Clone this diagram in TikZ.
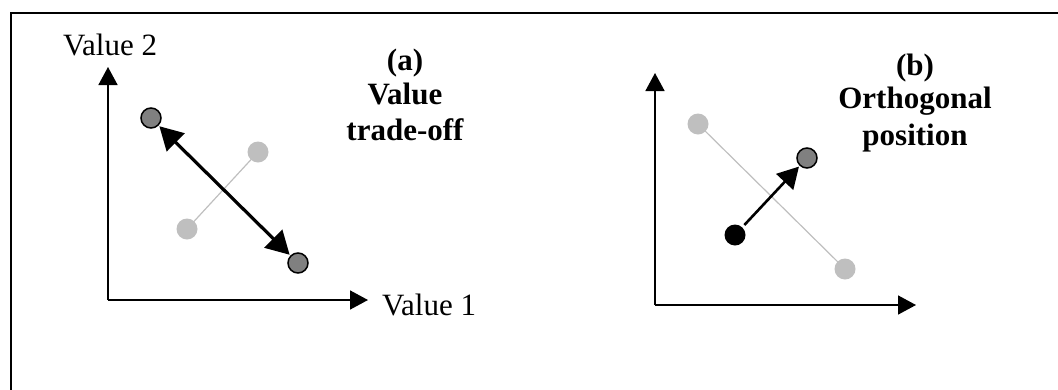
\documentclass[tikz,border=0pt]{standalone}
\usepackage{fontspec}
\setmainfont{Liberation Serif}
\usetikzlibrary{arrows.meta}
\begin{document}
\begin{tikzpicture}[x=1pt,y=-1pt,
  txt/.style={font=\fontsize{31}{35}\selectfont, inner sep=0pt},
  ttl/.style={font=\fontsize{31}{35}\selectfont\bfseries, inner sep=0pt, anchor=base},
  axis/.style={line width=1.6pt, -{Triangle[length=18pt,width=19pt]}},
  darkdot/.style={circle, draw=black, line width=1.5pt, fill=black!50, minimum size=20pt, inner sep=0pt},
  lightdot/.style={circle, fill=black!25, minimum size=21pt, inner sep=0pt},
  blackdot/.style={circle, fill=black, minimum size=21pt, inner sep=0pt},
  grayline/.style={draw=black!25, line width=1.2pt},
  bigarrow/.style={line width=3.2pt, {Triangle[length=23pt,width=25pt]}-{Triangle[length=23pt,width=25pt]}, shorten <=1pt, shorten >=1pt},
  onearrow/.style={line width=2.6pt, -{Triangle[length=21pt,width=23pt]}, shorten <=3pt, shorten >=1pt}
]
\useasboundingbox (0,0) rectangle (1058,389);
\draw[line width=2.2pt] (11,390) -- (11,13) -- (1058,13);

% panel (a)
\coordinate (oa) at (108,300);
\coordinate (ya) at (108,67);
\coordinate (xa) at (368,300);
\draw[axis] (oa) -- (ya);
\draw[axis] (oa) -- (xa);
\node[txt, anchor=base west] (v2) at (63,55) {Value 2};
\node[txt, anchor=base west] (v1) at (382,315) {Value 1};
\node[ttl] (ta1) at (405,70) {(a)};
\node[ttl] (ta2) at (405,104) {Value};
\node[ttl] (ta3) at (405,140) {trade-off};

\node[lightdot] (la1) at (258,152) {};
\node[lightdot] (la2) at (187,229) {};
\draw[grayline] (la1.center) -- (la2.center);
\node[darkdot] (da1) at (151,118) {};
\node[darkdot] (da2) at (298,263) {};
\draw[bigarrow] (da1) -- (da2);

% panel (b)
\coordinate (ob) at (655,305);
\coordinate (yb) at (655,73);
\coordinate (xb) at (916,305);
\draw[axis] (ob) -- (yb);
\draw[axis] (ob) -- (xb);
\node[ttl] (tb1) at (915,75) {(b)};
\node[ttl] (tb2) at (915,108) {Orthogonal};
\node[ttl] (tb3) at (915,145) {position};

\node[lightdot] (lb1) at (698,124) {};
\node[lightdot] (lb2) at (845,269) {};
\draw[grayline] (lb1.center) -- (lb2.center);
\node[blackdot] (bb) at (735,235) {};
\node[darkdot] (db) at (807,158) {};
\draw[onearrow] (bb) -- (db);
\end{tikzpicture}
\end{document}
